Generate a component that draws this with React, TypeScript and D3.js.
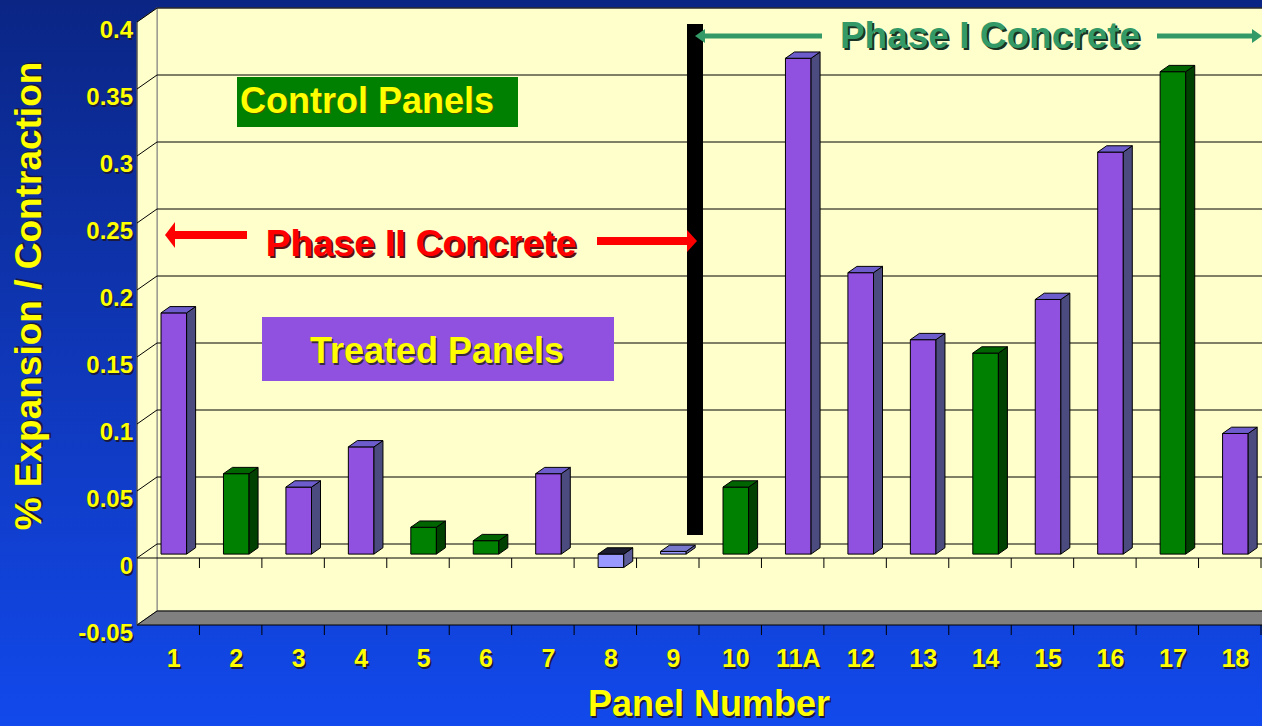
import React from 'react';
import * as d3 from 'd3';

const categories = ['1', '2', '3', '4', '5', '6', '7', '8', '9', '10', '11A', '12', '13', '14', '15', '16', '17', '18'];
const values = [0.18, 0.06, 0.05, 0.08, 0.02, 0.01, 0.06, -0.01, 0.002, 0.05, 0.37, 0.21, 0.16, 0.15, 0.19, 0.3, 0.36, 0.09];
// T = treated, C = control, N = near zero
const kinds = ['T', 'C', 'T', 'T', 'C', 'C', 'T', 'N', 'N', 'C', 'T', 'T', 'T', 'C', 'T', 'T', 'C', 'T'];
const yTicks = [-0.05, 0, 0.05, 0.1, 0.15, 0.2, 0.25, 0.3, 0.35, 0.4];
const yTickLabels = ['-0.05', '0', '0.05', '0.1', '0.15', '0.2', '0.25', '0.3', '0.35', '0.4'];

const W = 1262;
const H = 726;
const DX = 20; // depth offset of back wall
const DY = -14;
const Z0 = 0.28; // bar front depth
const Z1 = 0.73; // bar back depth
const FONT = '"Liberation Sans", Arial, sans-serif';

const colors = {
  T: { front: '#9050e0', side: '#4b4b80', top: '#6c5ccc' },
  C: { front: '#008000', side: '#004000', top: '#006400' },
  N: { front: '#9999ff', side: '#5c5c99', top: '#7777cc' },
};

const ShadowText = ({ x, y, text, size, fill, shadow, anchor = 'middle', transform = undefined, off = 2 }) => (
  <g transform={transform} fontFamily={FONT} fontWeight="bold" fontSize={size} textAnchor={anchor}>
    <text x={x + off} y={y + off} fill={shadow}>{text}</text>
    <text x={x} y={y} fill={fill}>{text}</text>
  </g>
);

const Arrow = ({ x1, x2, y, color, thick, head, headLen }) => {
  const dir = Math.sign(x2 - x1);
  const xb = x2 - dir * headLen;
  return (
    <g fill={color}>
      <rect x={Math.min(x1, xb)} y={y - thick / 2} width={Math.abs(xb - x1)} height={thick} />
      <polygon points={`${x2},${y} ${xb},${y - head / 2} ${xb},${y + head / 2}`} />
    </g>
  );
};

export default function App() {
  const y = d3.scaleLinear().domain([-0.05, 0.4]).range([625, 22]);
  const x = d3.scaleBand().domain(categories).range([137, 1261]).padding(0);
  const step = x.step();
  const bw = step * 0.41;

  const left = 137;
  const right = W + 40;
  const floorY = y(-0.05);

  const bars = categories.map((c, i) => {
    const v = values[i];
    const col = colors[kinds[i]];
    const cx = x(c)! + step / 2 + Z0 * DX;
    const x0 = cx - bw / 2;
    const x1 = cx + bw / 2;
    const bdx = (Z1 - Z0) * DX;
    const bdy = (Z1 - Z0) * DY;
    const yTop = y(Math.max(v, 0)) + Z0 * DY;
    const yBot = y(Math.min(v, 0)) + Z0 * DY;
    const topFill = v < 0 ? '#1c1c30' : col.top;
    return (
      <g key={c} stroke="#000" strokeWidth={1} strokeLinejoin="round">
        <rect x={x0} y={yTop} width={x1 - x0} height={Math.max(yBot - yTop, 1.5)} fill={col.front} />
        <polygon
          points={`${x1},${yTop} ${x1 + bdx},${yTop + bdy} ${x1 + bdx},${yBot + bdy} ${x1},${yBot}`}
          fill={col.side}
        />
        <polygon
          points={`${x0},${yTop} ${x0 + bdx},${yTop + bdy} ${x1 + bdx},${yTop + bdy} ${x1},${yTop}`}
          fill={topFill}
        />
      </g>
    );
  });

  const boundaries = categories.slice(1).map((c) => x(c)!).concat([x.range()[1]]);

  return (
    <div>
      <style>{`body{margin:0;}`}</style>
      <svg width={W} height={H} style={{ display: 'block' }}>
        <defs>
          <linearGradient id="bg" x1="0" y1="0" x2="0" y2="1">
            <stop offset="0" stopColor="#0a2584" />
            <stop offset="0.5" stopColor="#0f37b8" />
            <stop offset="1" stopColor="#1249ec" />
          </linearGradient>
        </defs>
        <rect width={W} height={H} fill="url(#bg)" />

        {/* back wall */}
        <rect x={left + DX} y={y(0.4) + DY} width={right - left - DX} height={floorY - y(0.4)} fill="#ffffcc" stroke="#808080" />
        {/* left wall */}
        <polygon
          points={`${left},${y(0.4)} ${left + DX},${y(0.4) + DY} ${left + DX},${floorY + DY} ${left},${floorY}`}
          fill="#ffffcc"
          stroke="#808080"
        />
        {/* floor */}
        <polygon
          points={`${left},${floorY} ${left + DX},${floorY + DY} ${right},${floorY + DY} ${right},${floorY}`}
          fill="#808080"
          stroke="#000"
        />
        <line x1={left} x2={left} y1={y(0.4)} y2={floorY} stroke="#404040" />

        {/* gridlines */}
        {yTicks.filter((t) => t > -0.05).map((t) => (
          <g key={t} stroke="#000" strokeWidth={1}>
            <line x1={left + DX} x2={right} y1={y(t) + DY} y2={y(t) + DY} />
            <line x1={left} x2={left + DX} y1={y(t)} y2={y(t) + DY} />
          </g>
        ))}

        {/* phase divider */}
        <rect x={687} y={24} width={16} height={511} fill="#000" />

        {/* zero axis + ticks */}
        <line x1={left} x2={right} y1={y(0)} y2={y(0)} stroke="#000" />
        {boundaries.map((b, i) => (
          <g key={i} stroke="#000">
            <line x1={b} x2={b} y1={y(0)} y2={y(0) + 10} />
            <line x1={b} x2={b} y1={floorY} y2={floorY + 10} />
          </g>
        ))}

        {bars}

        {/* y tick labels */}
        {yTicks.map((t, i) => (
          <ShadowText key={t} x={133} y={y(t) + 16} text={yTickLabels[i]} size={24} fill="#ffff00" shadow="#1a1a40" anchor="end" off={1.5} />
        ))}
        {/* x tick labels */}
        {categories.map((c) => (
          <ShadowText key={c} x={x(c)! + step / 2 + Z0 * DX} y={667} text={c} size={25} fill="#ffff00" shadow="#1a1a40" off={1.5} />
        ))}

        {/* axis titles */}
        <ShadowText x={709} y={716} text="Panel Number" size={36} fill="#ffff00" shadow="#1a1a40" off={1.5} />
        <ShadowText
          x={0}
          y={0}
          text="% Expansion / Contraction"
          size={37}
          fill="#ffff00"
          shadow="#1a1a40"
          off={1.5}
          transform="translate(41,296) rotate(-90)"
        />

        {/* annotation boxes */}
        <rect x={237} y={77} width={281} height={50} fill="#008000" />
        <ShadowText x={367} y={113} text="Control Panels" size={36} fill="#ffff00" shadow="#445500" off={1} />
        <rect x={262} y={317} width={352} height={64} fill="#9050e0" />
        <ShadowText x={437} y={363} text="Treated Panels" size={36} fill="#ffff00" shadow="#3a2a40" off={1.5} />

        {/* phase annotations */}
        <Arrow x1={247} x2={165} y={235} color="#ff0000" thick={8} head={26} headLen={10} />
        <Arrow x1={597} x2={697} y={241} color="#ff0000" thick={8} head={22} headLen={10} />
        <ShadowText x={421} y={256} text="Phase II Concrete" size={37} fill="#ff0000" shadow="#5a1010" off={2} />
        <Arrow x1={822} x2={695} y={36} color="#339966" thick={5} head={14} headLen={10} />
        <Arrow x1={1157} x2={1262} y={36} color="#339966" thick={5} head={14} headLen={10} />
        <ShadowText x={990} y={48} text="Phase I Concrete" size={37} fill="#339966" shadow="#1a3322" off={2} />
      </svg>
    </div>
  );
}
